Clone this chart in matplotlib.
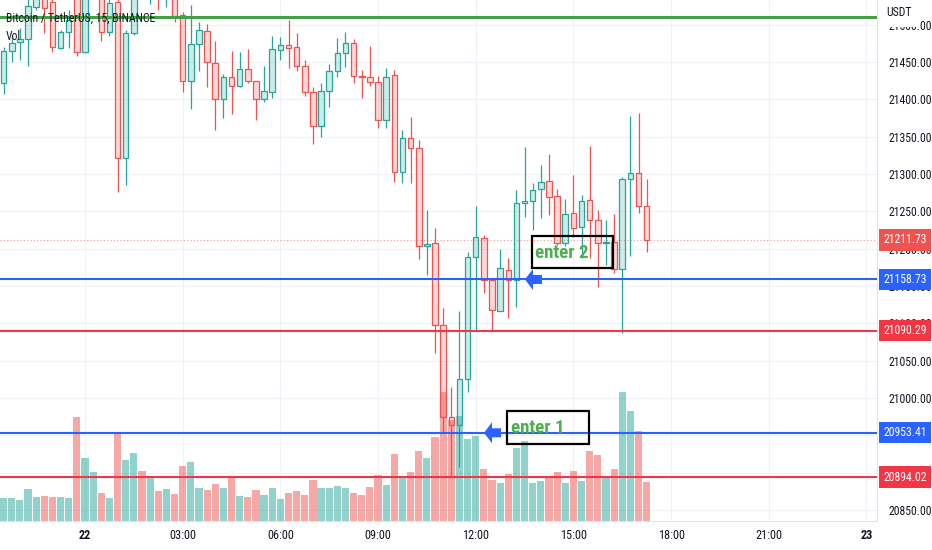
import numpy as np
import pandas as pd
import matplotlib
matplotlib.use('Agg')
import matplotlib.pyplot as plt
from matplotlib import font_manager as fm
from matplotlib.patches import Rectangle, Polygon
from matplotlib.transforms import blended_transform_factory, Affine2D

# ---------------- data ----------------
start_time = '2023-01-21 21:30'
opens = [21422, 21465, 21477, 21481, 21524, 21553, 21530, 21469, 21490, 21544,
         21463, 21546, 21558, 21490, 21530, 21321, 21489, 21555, 21545, 21565,
         21548, 21560, 21513, 21425, 21474, 21491, 21449, 21400, 21430, 21418,
         21441, 21425, 21400, 21410, 21466, 21473, 21470, 21445, 21410, 21364,
         21411, 21438, 21462, 21475, 21431, 21430, 21423, 21372, 21433, 21303,
         21348, 21335, 21204, 21208, 21098, 20975, 20964, 21025, 21189, 21214,
         21158, 21117, 21171, 21158, 21261, 21264, 21280, 21291, 21271, 21208,
         21248, 21229, 21265, 21238, 21208, 21209, 21173, 21293, 21301, 21257]
highs = [21470, 21486, 21496, 21536, 21553, 21560, 21550, 21493, 21520, 21555,
         21560, 21585, 21575, 21540, 21537, 21493, 21555, 21580, 21585, 21575,
         21575, 21565, 21517, 21526, 21504, 21501, 21478, 21434, 21465, 21463,
         21467, 21425, 21445, 21485, 21483, 21506, 21489, 21453, 21416, 21422,
         21447, 21482, 21490, 21481, 21439, 21471, 21431, 21442, 21439, 21359,
         21376, 21346, 21252, 21228, 21121, 21015, 21117, 21196, 21257, 21218,
         21158, 21200, 21188, 21279, 21336, 21288, 21312, 21327, 21280, 21267,
         21299, 21272, 21337, 21252, 21238, 21246, 21296, 21378, 21382, 21293]
lows = [21407, 21450, 21453, 21445, 21520, 21489, 21463, 21467, 21469, 21458,
        21462, 21538, 21478, 21485, 21276, 21285, 21486, 21538, 21528, 21520,
        21524, 21504, 21410, 21387, 21438, 21416, 21359, 21375, 21380, 21416,
        21422, 21372, 21396, 21402, 21453, 21442, 21438, 21404, 21340, 21350,
        21390, 21430, 21443, 21422, 21402, 21418, 21362, 21362, 21289, 21288,
        21288, 21186, 21165, 21060, 20953, 20894, 20908, 21008, 21091, 21141,
        21091, 21117, 21107, 21122, 21242, 21225, 21241, 21245, 21205, 21204,
        21216, 21188, 21188, 21149, 21178, 21167, 21087, 21190, 21248, 21196]
closes = [21465, 21475, 21481, 21525, 21544, 21522, 21470, 21490, 21506, 21463,
          21546, 21560, 21490, 21529, 21321, 21489, 21544, 21545, 21565, 21548,
          21560, 21512, 21425, 21474, 21493, 21450, 21400, 21430, 21418, 21441,
          21425, 21400, 21411, 21467, 21473, 21469, 21445, 21410, 21364, 21411,
          21438, 21462, 21475, 21431, 21430, 21423, 21372, 21430, 21303, 21348,
          21335, 21204, 21206, 21098, 20975, 20964, 21025, 21189, 21216, 21158,
          21118, 21174, 21158, 21261, 21264, 21279, 21289, 21269, 21208, 21246,
          21228, 21264, 21238, 21208, 21209, 21173, 21293, 21301, 21257, 21211.73]
volumes = [230, 230, 210, 320, 240, 250, 240, 240, 230, 1040,
           630, 490, 280, 230, 870, 610, 680, 500, 430, 300,
           320, 270, 550, 590, 330, 310, 370, 330, 430, 250,
           240, 310, 260, 330, 220, 280, 300, 260, 410, 330,
           330, 350, 330, 280, 260, 340, 460, 360, 670, 440,
           490, 700, 630, 840, 1290, 1010, 1050, 820, 850, 520,
           410, 380, 470, 730, 800, 380, 400, 440, 490, 380,
           500, 400, 700, 660, 440, 520, 1290, 1100, 900, 390]

tick_times = ['2023-01-22 00:00', '2023-01-22 03:00', '2023-01-22 06:00',
              '2023-01-22 09:00', '2023-01-22 12:00', '2023-01-22 15:00',
              '2023-01-22 18:00', '2023-01-22 21:00', '2023-01-23 00:00']
tick_labels = ['22', '03:00', '06:00', '09:00', '12:00', '15:00', '18:00', '21:00', '23']
price_ticks = [21500, 21450, 21400, 21350, 21300, 21250, 21200, 21150,
               21100, 21050, 21000, 20950, 20900, 20850]

green_level = 21510
blue_levels = [21158.73, 20953.41]
red_levels = [21090.29, 20894.02]
last_price = 21211.73

# ---------------- fonts ----------------
names = {f.name for f in fm.fontManager.ttflist}
FONT, k = 'Liberation Sans', 1.0
for cand in ['Roboto Condensed', 'Liberation Sans Narrow', 'Arial Narrow']:
    if cand in names:
        FONT, k = cand, 1.18
        break
plt.rcParams['font.family'] = [FONT, 'DejaVu Sans']

# ---------------- layout ----------------
W, H = 932, 550
R_PX, B_PX = 877, 521
PRICE_TOP = 21533.0
PX_PER_USD = 0.7467
PX_PER_BAR = 8.14
X0_PX = 85  # pixel of 00:00 on the 22nd

fig = plt.figure(figsize=(W / 100, H / 100), dpi=100)
fig.patch.set_facecolor('white')
ax = fig.add_axes([0, 1 - B_PX / H, R_PX / W, B_PX / H])
ax.set_facecolor('white')

t0 = pd.Timestamp('2023-01-22 00:00')
bar = pd.Timedelta('15min')
times = pd.date_range(start_time, periods=len(opens), freq='15min')
x = ((times - t0) / bar).to_numpy(dtype=float)
tick_x = ((pd.to_datetime(tick_times) - t0) / bar).to_numpy(dtype=float)

ax.set_xlim(-X0_PX / PX_PER_BAR, (R_PX - X0_PX) / PX_PER_BAR)
ax.set_ylim(PRICE_TOP - B_PX / PX_PER_USD, PRICE_TOP)

GREEN, RED = '#26a69a', '#ef5350'

# grid
ax.set_axisbelow(True)
ax.grid(True, color='#eef1f7', lw=0.8)

# volume bars (bottom overlay)
VOL_TOP = B_PX * 10.0
vol_tf = blended_transform_factory(ax.transData,
                                   Affine2D().scale(1, 1 / VOL_TOP) + ax.transAxes)
for xi, o, c, v in zip(x, opens, closes, volumes):
    col = GREEN if c >= o else RED
    ax.add_patch(Rectangle((xi - 0.44, 0), 0.88, v, transform=vol_tf,
                           fc=col, alpha=0.5, ec='none', zorder=1))

# candles
for xi, o, h, l, c in zip(x, opens, highs, lows, closes):
    up = c >= o
    col = GREEN if up else RED
    lo_b, hi_b = min(o, c), max(o, c)
    ax.vlines(xi, l, lo_b, color=col, lw=0.9, zorder=3)
    ax.vlines(xi, hi_b, h, color=col, lw=0.9, zorder=3)
    ax.add_patch(Rectangle((xi - 0.34, lo_b), 0.68, max(hi_b - lo_b, 1.2),
                           fc=col, alpha=0.22, ec='none', zorder=3))
    ax.add_patch(Rectangle((xi - 0.34, lo_b), 0.68, max(hi_b - lo_b, 1.2),
                           fc='none', ec=col, lw=0.9, zorder=4))

# horizontal levels
ax.axhline(last_price, color=RED, lw=0.8, ls=(0, (1, 2)), alpha=0.6, zorder=2)
ax.axhline(green_level, color='#43a047', lw=2.2, zorder=6)
for lv in blue_levels:
    ax.axhline(lv, color='#2962ff', lw=1.5, zorder=6)
for lv in red_levels:
    ax.axhline(lv, color='#f23645', lw=1.5, zorder=6)

# annotations: boxes, texts, arrows
def enter_box(x_left, x_right, p_low, p_high, label, text_x, text_p):
    ax.add_patch(Rectangle((x_left, p_low), x_right - x_left, p_high - p_low,
                           fill=False, ec='black', lw=1.6, zorder=8))
    ax.text(text_x, text_p, label, color='#4caf50', fontsize=11.5 * k,
            fontweight='bold', va='center', ha='left', zorder=9)

def left_arrow(tip_x, level):
    hl, tl = 8 / PX_PER_BAR, 17 / PX_PER_BAR
    hh, sh = 10.5 / PX_PER_USD, 4.5 / PX_PER_USD
    pts = [(tip_x, level), (tip_x + hl, level + hh), (tip_x + hl, level + sh),
           (tip_x + tl, level + sh), (tip_x + tl, level - sh),
           (tip_x + hl, level - sh), (tip_x + hl, level - hh)]
    ax.add_patch(Polygon(pts, closed=True, fc='#2962ff', ec='none', zorder=9))

enter_box(54.88, 64.9, 21174.5, 21217.4, 'enter 2', 55.3, 21194.6)
enter_box(51.84, 61.92, 20938.4, 20982.6, 'enter 1', 52.3, 20959.8)
left_arrow(54.05, blue_levels[0])
left_arrow(49.02, blue_levels[1])

# axes styling
ax.set_xticks(tick_x)
ax.set_xticklabels(tick_labels)
for lab in ax.get_xticklabels():
    if ':' not in lab.get_text():
        lab.set_fontweight('bold')
ax.set_yticks(price_ticks)
ax.set_yticklabels([f'{p:.2f}' for p in price_ticks])
ax.yaxis.tick_right()
ax.tick_params(axis='y', length=0, pad=8, labelsize=7.2 * k, labelcolor='#131722')
ax.tick_params(axis='x', length=0, pad=6, labelsize=7.5 * k, labelcolor='#131722')
for s in ['top', 'left']:
    ax.spines[s].set_visible(False)
for s in ['right', 'bottom']:
    ax.spines[s].set_color('#e0e3eb')
    ax.spines[s].set_linewidth(0.8)

# price labels on scale
lab_tf = blended_transform_factory(ax.transAxes, ax.transData)
def price_label(p, col):
    ax.text(883 / R_PX, p, f'{p:.2f}', transform=lab_tf, ha='left', va='center',
            color='white', fontsize=7.2 * k, clip_on=False, zorder=20,
            bbox=dict(boxstyle='square,pad=0.35', fc=col, ec='none'))

price_label(last_price, RED)
for lv in blue_levels:
    price_label(lv, '#2962ff')
for lv in red_levels:
    price_label(lv, '#f23645')

ax.text(886 / R_PX, 1 - 13 / B_PX, 'USDT', transform=ax.transAxes, ha='left',
        va='center', fontsize=7.2 * k, color='#131722', clip_on=False, zorder=20,
        bbox=dict(boxstyle='square,pad=0.6', fc='white', ec='none'))

ax.text(6 / R_PX, 1 - 18 / B_PX, 'Bitcoin / TetherUS, 15, BINANCE',
        transform=ax.transAxes, ha='left', va='center', fontsize=7.2 * k,
        color='#131722', zorder=30)
ax.text(6 / R_PX, 1 - 37 / B_PX, 'Vol', transform=ax.transAxes, ha='left',
        va='center', fontsize=7.2 * k, color='#131722', zorder=30)

fig.savefig('out.png', dpi=100, facecolor='white')
